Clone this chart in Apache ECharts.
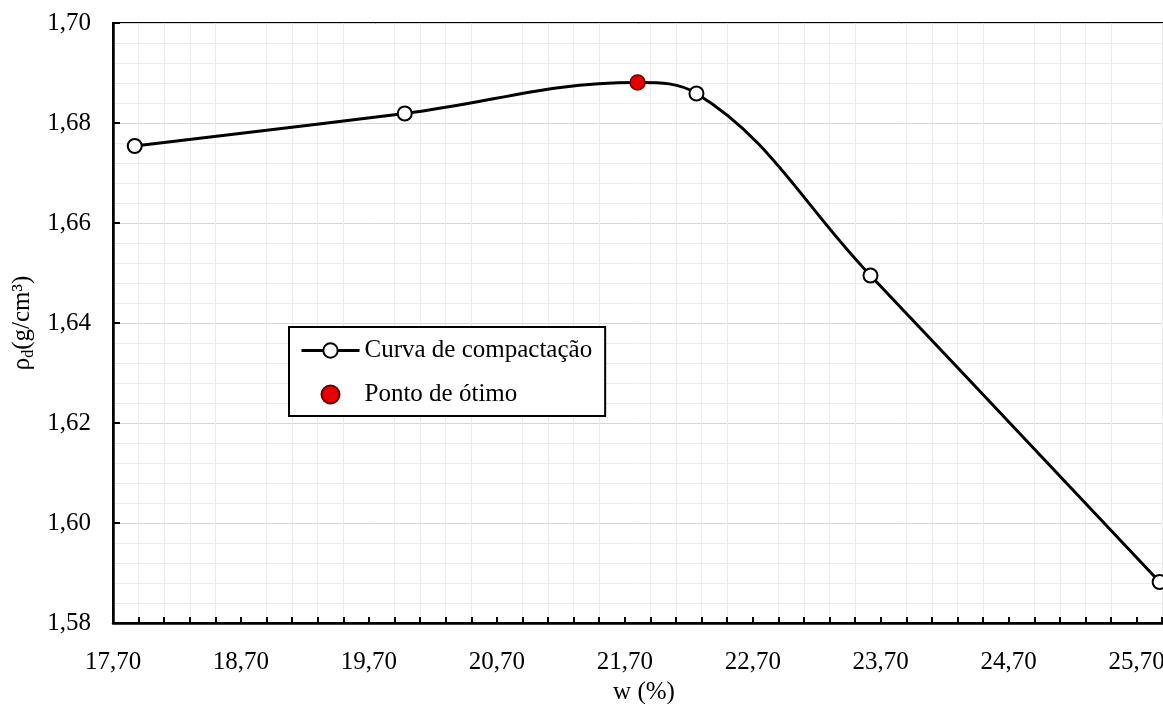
<!DOCTYPE html>
<html>
<head>
<meta charset="utf-8">
<script src="https://cdn.jsdelivr.net/npm/echarts@6/dist/echarts.min.js"></script>
<style>
  html, body { margin: 0; padding: 0; background: #fff; }
  #chart { width: 1163px; height: 704px; }
</style>
</head>
<body>
<div id="chart"></div>
<script>
// compaction curve readings
var wCurve = [17.87, 19.98, 21.80, 22.26, 23.62, 25.88]
var rhoCurve = [1.6754, 1.6819, 1.6881, 1.6859, 1.6495, 1.5882]
// index of the optimum inside the curve (drawn by the red series, no marker here)
var optIndex = 2
var wOpt = [21.80]
var rhoOpt = [1.6881]

var FONT = '"Liberation Serif", "Times New Roman", serif'

function fmt(v) {
  return v.toFixed(2).replace('.', ',')
}

var curveData = wCurve.map(function(w, i) {
  var item = { value: [w, rhoCurve[i]] }
  if (i === optIndex) item.symbol = 'none'
  return item
})
var optData = wOpt.map(function(w, i) { return [w, rhoOpt[i]] })

var chart = echarts.init(document.getElementById('chart'))
chart.setOption({
  backgroundColor: '#fff',
  animation: false,
  grid: {
    left: 113,
    top: 23,
    bottom: 81,
    width: 1062,
    containLabel: false,
    outerBoundsMode: 'none',
    show: true,
    borderColor: '#000',
    borderWidth: 2
  },
  legend: {
    orient: 'vertical',
    left: 289,
    top: 327,
    backgroundColor: '#fff',
    borderColor: '#000',
    borderWidth: 2,
    borderRadius: 0,
    padding: [11, 13, 9, 11],
    itemWidth: 58,
    itemHeight: 18,
    itemGap: 19,
    lineStyle: { width: 3, color: '#000' },
    textStyle: { fontFamily: FONT, fontSize: 25, color: '#000' },
    data: ['Curva de compactação', 'Ponto de ótimo']
  },
  xAxis: {
    type: 'value',
    min: 17.7,
    max: 26.0,
    interval: 1,
    name: 'w (%)',
    nameLocation: 'middle',
    nameGap: 55,
    nameTextStyle: { fontFamily: FONT, fontSize: 25, color: '#000' },
    axisLine: { lineStyle: { color: '#000', width: 2.5 } },
    axisTick: { inside: true, length: 6, lineStyle: { color: '#000', width: 2 } },
    minorTick: { show: true, splitNumber: 5, length: 6, lineStyle: { color: '#000', width: 2 } },
    axisLabel: {
      margin: 27,
      fontFamily: FONT,
      fontSize: 25,
      color: '#000',
      showMaxLabel: false,
      formatter: fmt
    },
    splitLine: { show: false },
    minorSplitLine: { show: true, lineStyle: { color: '#ebebeb', width: 1 } }
  },
  yAxis: {
    type: 'value',
    min: 1.58,
    max: 1.70,
    interval: 0.02,
    name: '{a|ρ}{b|d}{a|(g/cm³)}',
    nameLocation: 'middle',
    nameGap: 68,
    nameTextStyle: {
      fontFamily: FONT,
      fontSize: 25,
      color: '#000',
      rich: {
        a: { fontFamily: FONT, fontSize: 25, color: '#000' },
        b: { fontFamily: FONT, fontSize: 16, color: '#000', verticalAlign: 'bottom', padding: [12, 0, 0, 0] }
      }
    },
    axisLine: { lineStyle: { color: '#000', width: 2.5 } },
    axisTick: { inside: true, length: 7, lineStyle: { color: '#000', width: 2 } },
    axisLabel: {
      margin: 22,
      fontFamily: FONT,
      fontSize: 25,
      color: '#000',
      formatter: fmt
    },
    splitLine: { show: true, lineStyle: { color: '#d6d6d6', width: 1 } },
    minorTick: { show: false, splitNumber: 5 },
    minorSplitLine: { show: true, lineStyle: { color: '#ebebeb', width: 1 } }
  },
  series: [
    {
      name: 'Curva de compactação',
      type: 'line',
      smooth: 0.4,
      data: curveData,
      symbol: 'circle',
      symbolSize: 14,
      showAllSymbol: true,
      lineStyle: { color: '#000', width: 3 },
      itemStyle: { color: '#fff', borderColor: '#000', borderWidth: 2 },
      z: 3
    },
    {
      name: 'Ponto de ótimo',
      type: 'scatter',
      data: optData,
      symbol: 'circle',
      symbolSize: 15,
      itemStyle: { color: '#e80000', borderColor: '#6a0000', borderWidth: 1.5, opacity: 1 },
      z: 5
    }
  ]
})
</script>
</body>
</html>
